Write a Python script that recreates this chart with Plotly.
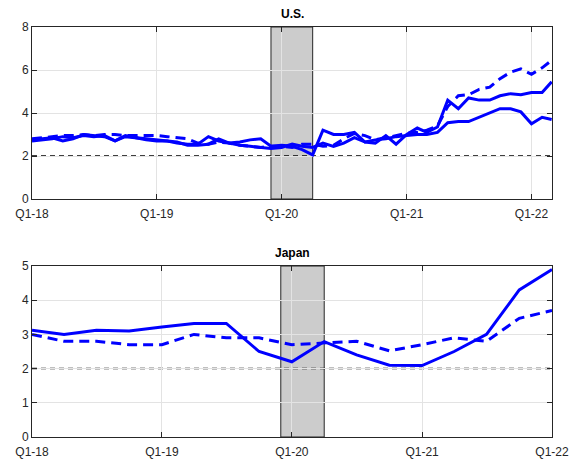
import pandas as pd
import plotly.graph_objects as go

# ---- U.S. monthly series, Jan 2018 - Mar 2022 ----
us_months = pd.date_range("2018-01-01", "2022-03-01", freq="MS")
us_solid_a = [
    2.75, 2.80, 2.85, 2.70, 2.80, 3.00, 2.95, 2.90, 2.70, 2.95, 2.85, 2.75,
    2.70, 2.70, 2.60, 2.55, 2.55, 2.90, 2.70, 2.60, 2.65, 2.75, 2.80, 2.45,
    2.50, 2.45, 2.30, 2.05, 3.20, 3.00, 3.00, 3.10, 2.65, 2.60, 2.95, 2.55,
    3.00, 3.30, 3.10, 3.35, 4.60, 4.20, 4.70, 4.60, 4.60, 4.80, 4.90, 4.85,
    4.95, 4.95, 5.45,
]
us_dashed = [
    2.80, 2.85, 2.90, 2.95, 2.95, 3.00, 2.95, 3.00, 3.00, 2.95, 2.95, 2.95,
    2.95, 2.90, 2.85, 2.80, 2.60, 2.55, 2.65, 2.60, 2.50, 2.45, 2.40, 2.45,
    2.45, 2.40, 2.55, 2.55, 2.45, 2.50, 2.80, 3.05, 2.95, 2.75, 2.85, 2.95,
    3.05, 3.10, 3.20, 3.40, 4.30, 4.80, 4.85, 5.10, 5.20, 5.60, 5.90, 6.05,
    5.80, 6.10, 6.45,
]
us_solid_c = [
    2.70, 2.75, 2.80, 2.90, 2.85, 2.95, 2.90, 2.95, 2.70, 2.90, 2.85, 2.80,
    2.75, 2.70, 2.65, 2.50, 2.50, 2.55, 2.80, 2.60, 2.50, 2.45, 2.40, 2.35,
    2.40, 2.55, 2.45, 2.40, 2.60, 2.45, 2.60, 2.85, 2.65, 2.75, 2.80, 2.90,
    2.95, 3.00, 3.00, 3.10, 3.55, 3.60, 3.60, 3.80, 4.00, 4.20, 4.20, 4.05,
    3.50, 3.80, 3.70,
]

# ---- Japan quarterly series, Q1-18 - Q1-22 ----
jp_quarters = pd.date_range("2018-01-01", "2022-01-01", freq="QS")
jp_solid = [3.12, 3.00, 3.12, 3.10, 3.22, 3.32, 3.32, 2.50, 2.20,
            2.79, 2.40, 2.10, 2.09, 2.50, 3.00, 4.30, 4.90]
jp_dashed = [3.00, 2.80, 2.80, 2.70, 2.70, 3.00, 2.90, 2.90, 2.70,
             2.74, 2.80, 2.52, 2.70, 2.90, 2.80, 3.47, 3.70]

tick_dates = ["2018-01-01", "2019-01-01", "2020-01-01", "2021-01-01", "2022-01-01"]
tick_text = ["Q1-18", "Q1-19", "Q1-20", "Q1-21", "Q1-22"]
target = 2.0
shade_start, shade_end = "2019-12-01", "2020-04-01"

BLUE = "#0000ff"
AX = "#262626"
GRID = "#e3e3e3"
FONT = "Liberation Sans, Arial, sans-serif"

fig = go.Figure()

def add_series(x, y, xa, ya, dashed):
    fig.add_trace(go.Scatter(
        x=x, y=y, xaxis=xa, yaxis=ya, mode="lines",
        line=dict(color=BLUE, width=3, dash="10px,6px" if dashed else "solid"),
        showlegend=False, hoverinfo="skip",
    ))

add_series(us_months, us_solid_a, "x", "y", False)
add_series(us_months, us_dashed, "x", "y", True)
add_series(us_months, us_solid_c, "x", "y", False)
add_series(jp_quarters, jp_solid, "x2", "y2", False)
add_series(jp_quarters, jp_dashed, "x2", "y2", True)

shapes = []
for xr, yr in (("x", "y"), ("x2", "y2")):
    # shaded episode
    shapes.append(dict(
        type="rect", xref=xr, yref=f"{yr} domain", x0=shade_start, x1=shade_end,
        y0=0, y1=1, fillcolor="#cccccc", line=dict(color=AX, width=1), layer="below",
    ))
    # 2% reference line
    shapes.append(dict(
        type="line", xref=f"{xr} domain", yref=yr, x0=0, x1=1, y0=target, y1=target,
        line=dict(color="#000000", width=1.5, dash="5px,4px"), layer="below",
    ))

axis_common = dict(
    showline=True, linecolor=AX, linewidth=1, mirror="ticks",
    ticks="inside", ticklen=5, tickcolor=AX, tickwidth=1,
    showgrid=True, gridcolor=GRID, gridwidth=1, zeroline=False,
    automargin=False,
    tickfont=dict(family=FONT, size=12, color=AX),
)
x_extra = dict(ticklabelstandoff=4)

fig.update_layout(
    width=571, height=462,
    margin=dict(l=32, r=19, t=27, b=25),
    paper_bgcolor="white", plot_bgcolor="white",
    shapes=shapes,
    xaxis=dict(domain=[0, 1], anchor="y", type="date",
               range=["2018-01-01", "2022-03-02"],
               tickvals=tick_dates, ticktext=tick_text, **axis_common, **x_extra),
    yaxis=dict(domain=[0.5805, 1], anchor="x", range=[0, 8],
               tickvals=[0, 2, 4, 6, 8], **axis_common),
    xaxis2=dict(domain=[0, 1], anchor="y2", type="date",
                range=["2018-01-01", "2022-01-01"],
                tickvals=tick_dates, ticktext=tick_text, **axis_common, **x_extra),
    yaxis2=dict(domain=[0, 0.417], anchor="x2", range=[0, 5],
                tickvals=[0, 1, 2, 3, 4, 5], **axis_common),
    annotations=[
        dict(text="<b>U.S.</b>", xref="paper", yref="paper", x=0.5, y=1.032,
             xanchor="center", yanchor="middle", showarrow=False,
             font=dict(family=FONT, size=12, color="#000000")),
        dict(text="<b>Japan</b>", xref="paper", yref="paper", x=0.5, y=0.449,
             xanchor="center", yanchor="middle", showarrow=False,
             font=dict(family=FONT, size=12, color="#000000")),
    ],
)

fig.write_html("out.html")
